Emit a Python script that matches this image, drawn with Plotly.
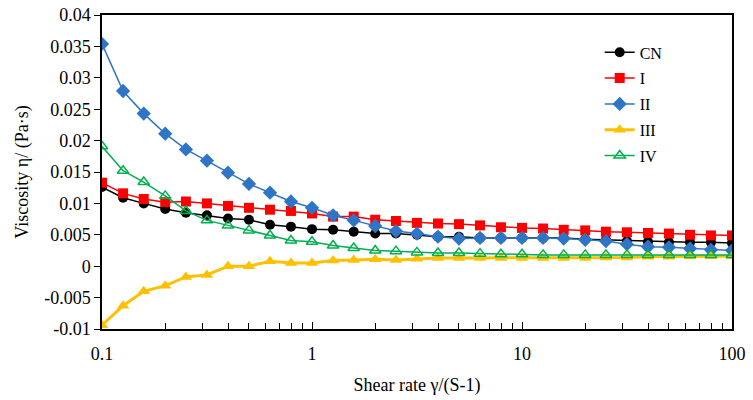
import plotly.graph_objects as go

shear_rate = [0.1, 0.126, 0.158, 0.2, 0.251, 0.316, 0.398, 0.501, 0.631, 0.794,
              1.0, 1.26, 1.58, 2.0, 2.51, 3.16, 3.98, 5.01, 6.31, 7.94,
              10.0, 12.6, 15.8, 20.0, 25.1, 31.6, 39.8, 50.1, 63.1, 79.4, 100.0]

cn = [0.0126, 0.0109, 0.0100, 0.0091, 0.0085, 0.0081, 0.0076, 0.0074, 0.0066, 0.0063,
      0.0059, 0.0058, 0.0055, 0.0052, 0.0052, 0.0050, 0.0047, 0.0047, 0.0045, 0.0045,
      0.0045, 0.0045, 0.0045, 0.0043, 0.0042, 0.0040, 0.0039, 0.0038, 0.0038, 0.0038, 0.0037]
s1 = [0.0133, 0.0116, 0.0107, 0.0102, 0.0103, 0.0100, 0.0096, 0.0093, 0.0090, 0.0088,
      0.0084, 0.0079, 0.0079, 0.0074, 0.0072, 0.0069, 0.0068, 0.0067, 0.0065, 0.0062,
      0.0061, 0.0060, 0.0058, 0.0057, 0.0055, 0.0054, 0.0053, 0.0052, 0.0050, 0.0049, 0.0049]
s2 = [0.0354, 0.0279, 0.0243, 0.0211, 0.0186, 0.0168, 0.0149, 0.0131, 0.0117, 0.0103,
      0.0093, 0.0081, 0.0073, 0.0064, 0.0056, 0.0052, 0.0047, 0.0044, 0.0045, 0.0045,
      0.0045, 0.0045, 0.0044, 0.0042, 0.0040, 0.0035, 0.0031, 0.0030, 0.0028, 0.0026, 0.0025]
s3 = [-0.0094, -0.0063, -0.0040, -0.0031, -0.0017, -0.0014, 0.0000, 0.0000, 0.0008, 0.0005,
      0.0005, 0.0009, 0.0010, 0.0011, 0.0010, 0.0012, 0.0013, 0.0013, 0.0013, 0.0013,
      0.0013, 0.0013, 0.0013, 0.0013, 0.0014, 0.0014, 0.0015, 0.0015, 0.0016, 0.0016, 0.0016]
s4 = [0.0191, 0.0152, 0.0134, 0.0112, 0.0088, 0.0073, 0.0065, 0.0057, 0.0049, 0.0041,
      0.0039, 0.0033, 0.0029, 0.0025, 0.0024, 0.0022, 0.0021, 0.0021, 0.0020, 0.0019,
      0.0019, 0.0018, 0.0018, 0.0018, 0.0018, 0.0018, 0.0018, 0.0018, 0.0018, 0.0018, 0.0018]

series_names = ["CN", "I", "II", "III", "IV"]
y_tick_vals = [0.04, 0.035, 0.03, 0.025, 0.02, 0.015, 0.01, 0.005, 0, -0.005, -0.01]
y_tick_text = ["0.04", "0.035", "0.03", "0.025", "0.02", "0.015", "0.01", "0.005", "0", "-0.005", "-0.01"]
x_tick_vals = [0.1, 1, 10, 100]
x_tick_text = ["0.1", "1", "10", "100"]

FONT = "Liberation Serif, Times New Roman, serif"

styles = [
    dict(color="#000000", symbol="circle", size=10, lw=1.5),
    dict(color="#FF0000", symbol="square", size=10, lw=1.5),
    dict(color="#2E75C6", symbol="diamond", size=11, lw=1.5),
    dict(color="#FFC000", symbol="triangle-up", size=11, lw=3),
    dict(color="#00B050", symbol="triangle-up-open", size=10, lw=1.5),
]

fig = go.Figure()
for name, ys, st in zip(series_names, [cn, s1, s2, s3, s4], styles):
    is_open = "open" in st["symbol"]
    fig.add_trace(go.Scatter(
        x=shear_rate, y=ys, name=name, mode="lines+markers", legendgroup=name,
        line=dict(color=st["color"], width=st["lw"]),
        marker=dict(symbol=st["symbol"], size=st["size"], color=st["color"],
                    line=dict(width=1.5 if is_open else 0, color=st["color"])),
    ))

fig.update_layout(
    width=753, height=400,
    margin=dict(l=102, r=21, t=15, b=71),
    paper_bgcolor="white", plot_bgcolor="white",
    font=dict(family=FONT, size=18, color="black"),
    showlegend=True,
    legend=dict(x=0.79, y=0.935, xanchor="left", yanchor="top",
                bgcolor="rgba(0,0,0,0)", font=dict(size=16), tracegroupgap=2),
    xaxis=dict(
        type="log", range=[-1, 2], automargin=False,
        tickvals=x_tick_vals, ticktext=x_tick_text,
        ticks="inside", ticklen=7, tickcolor="black", tickwidth=1,
        ticklabelstandoff=8, ticklabeloverflow="allow",
        minor=dict(ticks="inside", ticklen=6, tickcolor="black", dtick="D1", showgrid=False),
        showline=True, linecolor="black", linewidth=1.5, mirror=True,
        showgrid=False, zeroline=False,
        title=dict(text="Shear rate γ/(S-1)", font=dict(size=18), standoff=15),
    ),
    yaxis=dict(
        range=[-0.01, 0.04], automargin=False,
        tickvals=y_tick_vals, ticktext=y_tick_text,
        ticks="outside", ticklen=6, tickcolor="black", tickwidth=1,
        ticklabeloverflow="allow",
        showline=True, linecolor="black", linewidth=1.5, mirror=True,
        showgrid=False, zeroline=False,
        title=dict(text="Viscosity η/ (Pa·s)", font=dict(size=18), standoff=11),
    ),
)

# remove the browser's default 8px body margin so the figure fills the 753x400 window
fig.write_html("out.html", config={"displayModeBar": False},
               post_script="document.body.style.margin='0px';")
